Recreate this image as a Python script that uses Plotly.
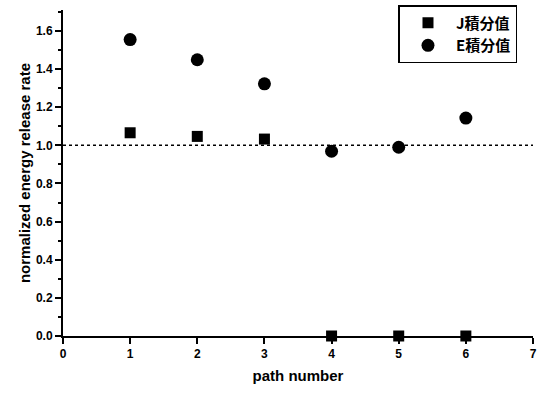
import plotly.graph_objects as go

path = [1, 2, 3, 4, 5, 6]
j_vals = [1.066, 1.047, 1.033, 0.0, 0.0, 0.0]
e_vals = [1.555, 1.449, 1.323, 0.969, 0.990, 1.143]
ref_level = 1.0

font = "Liberation Sans, Arial, sans-serif"

fig = go.Figure()
fig.add_trace(go.Scatter(x=[0, 7], y=[ref_level, ref_level], mode="lines",
                         line=dict(color="black", width=1.5, dash="dot"),
                         showlegend=False, hoverinfo="skip"))
fig.add_trace(go.Scatter(x=path, y=j_vals, mode="markers", name="J積分值",
                         marker=dict(symbol="square", size=11, color="black"),
                         cliponaxis=False))
fig.add_trace(go.Scatter(x=path, y=e_vals, mode="markers", name="E積分值",
                         marker=dict(symbol="circle", size=13, color="black"),
                         cliponaxis=False))

fig.update_layout(
    width=546, height=393,
    margin=dict(l=63, r=13, t=10, b=57, autoexpand=False),
    paper_bgcolor="white", plot_bgcolor="white",
    font=dict(family=font, color="black", size=11),
    legend=dict(x=0.967, y=1.015, xanchor="right", yanchor="top",
                bordercolor="black", borderwidth=1.5, bgcolor="white",
                font=dict(family="Noto Sans CJK JP, " + font, size=15, color="black",
                          weight="bold"),
                itemwidth=46, tracegroupgap=0),
    xaxis=dict(range=[0, 7], tickvals=list(range(8)), ticks="outside",
               ticklen=6, tickwidth=2, tickcolor="black",
               showline=True, linecolor="black", linewidth=2,
               showgrid=False, zeroline=False,
               tickfont=dict(family=font, size=12, weight="bold"),
               title=dict(text="path number", font=dict(family=font, size=15, weight="bold"),
                          standoff=10)),
    yaxis=dict(range=[0, 1.71], tickvals=[0, 0.2, 0.4, 0.6, 0.8, 1.0, 1.2, 1.4, 1.6],
               ticktext=["0.0", "0.2", "0.4", "0.6", "0.8", "1.0", "1.2", "1.4", "1.6"],
               ticks="outside", ticklen=6, tickwidth=2, tickcolor="black",
               minor=dict(tickvals=[0.1, 0.3, 0.5, 0.7, 0.9, 1.1, 1.3, 1.5, 1.7],
                          ticks="outside", ticklen=3, tickwidth=1.5, tickcolor="black"),
               showline=True, linecolor="black", linewidth=2,
               showgrid=False, zeroline=False,
               tickfont=dict(family=font, size=12, weight="bold"),
               title=dict(text="normalized energy release rate",
                          font=dict(family=font, size=15, weight="bold"), standoff=2)),
)

fig.write_html("out.html")
